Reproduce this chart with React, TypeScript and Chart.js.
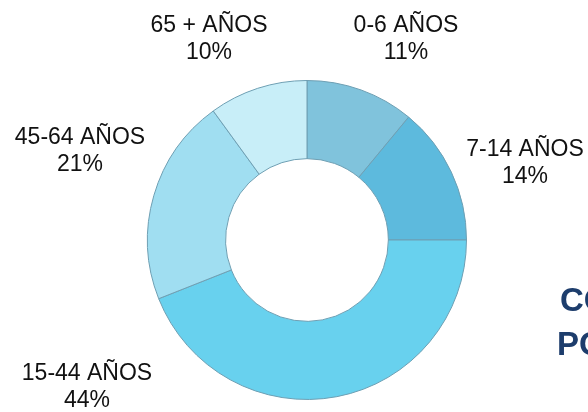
import React, { useEffect, useRef } from "react";
import { Chart, registerables } from "chart.js";

Chart.register(...registerables);

const categories = ["0-6 AÑOS", "7-14 AÑOS", "15-44 AÑOS", "45-64 AÑOS", "65 + AÑOS"];
const values = [11, 14, 44, 21, 10];
const colors = ["#80c3dc", "#5dbadd", "#68d1ee", "#a0def1", "#c8eef8"];
// label anchor offsets relative to doughnut center (dx, dy of first line)
const labelOffsets = [
  [99, -214],
  [218, -90],
  [-220, 134],
  [-227, -102],
  [-98, -214],
];
const sideTitle = ["CO", "PO"];

function shade(hex: string, f: number) {
  const n = parseInt(hex.slice(1), 16);
  const ch = [(n >> 16) & 255, (n >> 8) & 255, n & 255].map((v) =>
    Math.max(0, Math.min(255, Math.round(f >= 0 ? v + (255 - v) * f : v * (1 + f))))
  );
  return `rgb(${ch[0]},${ch[1]},${ch[2]})`;
}

const labelPlugin = {
  id: "outerLabels",
  afterDraw(chart: any) {
    const { ctx } = chart;
    const arc = chart.getDatasetMeta(0).data[0];
    if (!arc) return;
    const cx = arc.x;
    const cy = arc.y;
    ctx.save();
    ctx.fillStyle = "#111111";
    ctx.font = "23px 'Liberation Sans', Arial, sans-serif";
    ctx.textAlign = "center";
    ctx.textBaseline = "middle";
    categories.forEach((c, i) => {
      const [dx, dy] = labelOffsets[i];
      ctx.fillText(c, cx + dx, cy + dy);
      ctx.fillText(values[i] + "%", cx + dx, cy + dy + 27);
    });
    ctx.fillStyle = "#1d3d6c";
    ctx.font = "bold 33px 'Liberation Sans', Arial, sans-serif";
    ctx.textAlign = "left";
    ctx.fillText(sideTitle[0], cx + 253, cy + 62);
    ctx.fillText(sideTitle[1], cx + 250, cy + 106);
    ctx.restore();
  },
};

export default function App() {
  const ref = useRef<HTMLCanvasElement>(null);
  useEffect(() => {
    document.body.style.margin = "0";
    const chart = new Chart(ref.current!, {
      type: "doughnut",
      data: {
        labels: categories,
        datasets: [
          {
            data: values,
            backgroundColor: (c: any) => {
              const base = colors[c.dataIndex];
              const el = c.element;
              if (!el || !el.outerRadius) return base;
              const { x, y, innerRadius, outerRadius } = el;
              const g = c.chart.ctx.createRadialGradient(x, y, innerRadius, x, y, outerRadius);
              g.addColorStop(0, shade(base, -0.25));
              g.addColorStop(0.05, shade(base, 0.25));
              g.addColorStop(0.25, shade(base, 0.08));
              g.addColorStop(0.75, base);
              g.addColorStop(0.95, shade(base, -0.08));
              g.addColorStop(1, shade(base, -0.2));
              return g;
            },
            borderColor: "#6e9fb3",
            borderWidth: 1,
          },
        ],
      },
      options: {
        responsive: false,
        animation: false,
        cutout: "51%",
        layout: { padding: { top: 80, bottom: 12, left: 147, right: 121 } },
        plugins: {
          legend: { display: false },
          tooltip: { enabled: false },
        },
      },
      plugins: [labelPlugin],
    });
    return () => chart.destroy();
  }, []);
  return (
    <div style={{ width: 588, height: 412, background: "#fff" }}>
      <canvas ref={ref} width={588} height={412} />
    </div>
  );
}
